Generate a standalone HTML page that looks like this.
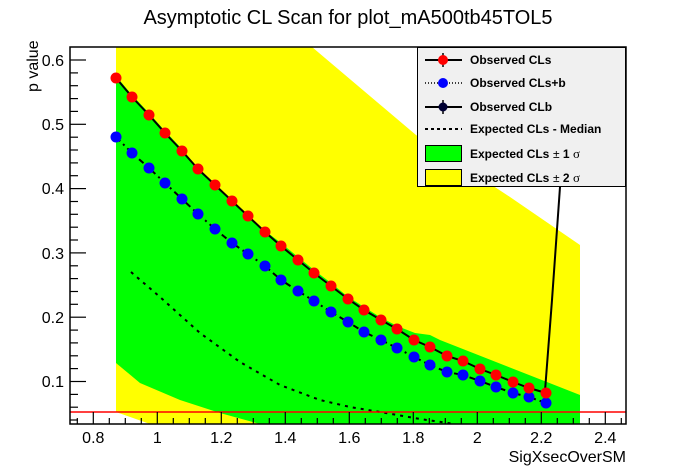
<!DOCTYPE html>
<html><head><meta charset="utf-8"><style>
body{margin:0;background:#fff;}
svg{display:block;font-family:"Liberation Sans",Arial,sans-serif;}
.pre{white-space:pre;}
</style></head><body>
<svg width="696" height="472" viewBox="0 0 696 472" xmlns="http://www.w3.org/2000/svg">
<rect width="696" height="472" fill="#fff"/>
<defs><clipPath id="c"><rect x="70" y="47" width="556" height="377"/></clipPath></defs>
<g clip-path="url(#c)">
<polygon fill="#ffff00" points="116,47 312,47 416,135 510,197 580,245 580,424 150,424 116,412"/>
<polygon fill="#00ff00" points="116,76 132,95 149,113 165,131 182,149 197,167 214,183 231,199 247,214 264,230 281,243 298,257 314,270 331,283 347,296 364,307 380,317 397,326 415,333 430,335 440,340 580,395 580,424 260,424 220,413 180,400 140,383 116,363"/>
<polyline fill="none" stroke="#000" stroke-width="2" stroke-dasharray="3,5" points="131,272 160,297 200,333 240,362 280,385 320,400 350,407 380,412 420,419 455,424"/>
<polyline fill="none" stroke="#000" stroke-width="2" stroke-dasharray="6,4,2,4" points="116,137 132,153 149,168 165,183 182,199 198,214 215,229 232,243 248,254 265,266 281,280 298,291 314,301 331,312 348,322 364,332 381,340 397,348 414,357 430,365 447,372 463,375 480,381 496,387 513,393 529,397 546,403"/>
<polyline fill="none" stroke="#000" stroke-width="2" points="116,78 132,97 149,115 165,133 182,151 198,169 215,185 232,201 248,216 265,232 281,246 298,260 314,273 331,286 348,299 364,310 381,320 397,329 414,340 430,347 447,356 463,361 480,369 496,375 513,382 529,388 546,393"/>
<polyline fill="none" stroke="#000" stroke-width="2" points="545,391 552,300 560,187 566,100"/>
<g fill="#0000ff">
<circle cx="116" cy="137" r="5.5"/><circle cx="132" cy="153" r="5.5"/><circle cx="149" cy="168" r="5.5"/><circle cx="165" cy="183" r="5.5"/><circle cx="182" cy="199" r="5.5"/><circle cx="198" cy="214" r="5.5"/><circle cx="215" cy="229" r="5.5"/><circle cx="232" cy="243" r="5.5"/><circle cx="248" cy="254" r="5.5"/><circle cx="265" cy="266" r="5.5"/><circle cx="281" cy="280" r="5.5"/><circle cx="298" cy="291" r="5.5"/><circle cx="314" cy="301" r="5.5"/><circle cx="331" cy="312" r="5.5"/><circle cx="348" cy="322" r="5.5"/><circle cx="364" cy="332" r="5.5"/><circle cx="381" cy="340" r="5.5"/><circle cx="397" cy="348" r="5.5"/><circle cx="414" cy="357" r="5.5"/><circle cx="430" cy="365" r="5.5"/><circle cx="447" cy="372" r="5.5"/><circle cx="463" cy="375" r="5.5"/><circle cx="480" cy="381" r="5.5"/><circle cx="496" cy="387" r="5.5"/><circle cx="513" cy="393" r="5.5"/><circle cx="529" cy="397" r="5.5"/><circle cx="546" cy="403" r="5.5"/>
</g>
<g fill="#ff0000">
<circle cx="116" cy="78" r="5.5"/><circle cx="132" cy="97" r="5.5"/><circle cx="149" cy="115" r="5.5"/><circle cx="165" cy="133" r="5.5"/><circle cx="182" cy="151" r="5.5"/><circle cx="198" cy="169" r="5.5"/><circle cx="215" cy="185" r="5.5"/><circle cx="232" cy="201" r="5.5"/><circle cx="248" cy="216" r="5.5"/><circle cx="265" cy="232" r="5.5"/><circle cx="281" cy="246" r="5.5"/><circle cx="298" cy="260" r="5.5"/><circle cx="314" cy="273" r="5.5"/><circle cx="331" cy="286" r="5.5"/><circle cx="348" cy="299" r="5.5"/><circle cx="364" cy="310" r="5.5"/><circle cx="381" cy="320" r="5.5"/><circle cx="397" cy="329" r="5.5"/><circle cx="414" cy="340" r="5.5"/><circle cx="430" cy="347" r="5.5"/><circle cx="447" cy="356" r="5.5"/><circle cx="463" cy="361" r="5.5"/><circle cx="480" cy="369" r="5.5"/><circle cx="496" cy="375" r="5.5"/><circle cx="513" cy="382" r="5.5"/><circle cx="529" cy="388" r="5.5"/><circle cx="546" cy="393" r="5.5"/>
</g>
<line x1="70" y1="412" x2="626" y2="412" stroke="#ff0000" stroke-width="1.5"/>
</g>
<rect x="70" y="47" width="556" height="377" fill="none" stroke="#000" stroke-width="1.5"/>
<g stroke="#000" stroke-width="1.2">
<line x1="77.3" y1="424" x2="77.3" y2="418"/>
<line x1="93.3" y1="424" x2="93.3" y2="412"/><line x1="109.3" y1="424" x2="109.3" y2="418"/><line x1="125.3" y1="424" x2="125.3" y2="418"/><line x1="141.3" y1="424" x2="141.3" y2="418"/>
<line x1="157.3" y1="424" x2="157.3" y2="412"/><line x1="173.3" y1="424" x2="173.3" y2="418"/><line x1="189.3" y1="424" x2="189.3" y2="418"/><line x1="205.3" y1="424" x2="205.3" y2="418"/>
<line x1="221.3" y1="424" x2="221.3" y2="412"/><line x1="237.3" y1="424" x2="237.3" y2="418"/><line x1="253.3" y1="424" x2="253.3" y2="418"/><line x1="269.3" y1="424" x2="269.3" y2="418"/>
<line x1="285.3" y1="424" x2="285.3" y2="412"/><line x1="301.3" y1="424" x2="301.3" y2="418"/><line x1="317.3" y1="424" x2="317.3" y2="418"/><line x1="333.3" y1="424" x2="333.3" y2="418"/>
<line x1="349.3" y1="424" x2="349.3" y2="412"/><line x1="365.3" y1="424" x2="365.3" y2="418"/><line x1="381.3" y1="424" x2="381.3" y2="418"/><line x1="397.3" y1="424" x2="397.3" y2="418"/>
<line x1="413.3" y1="424" x2="413.3" y2="412"/><line x1="429.3" y1="424" x2="429.3" y2="418"/><line x1="445.3" y1="424" x2="445.3" y2="418"/><line x1="461.3" y1="424" x2="461.3" y2="418"/>
<line x1="477.3" y1="424" x2="477.3" y2="412"/><line x1="493.3" y1="424" x2="493.3" y2="418"/><line x1="509.3" y1="424" x2="509.3" y2="418"/><line x1="525.3" y1="424" x2="525.3" y2="418"/>
<line x1="541.3" y1="424" x2="541.3" y2="412"/><line x1="557.3" y1="424" x2="557.3" y2="418"/><line x1="573.3" y1="424" x2="573.3" y2="418"/><line x1="589.3" y1="424" x2="589.3" y2="418"/>
<line x1="605.3" y1="424" x2="605.3" y2="412"/><line x1="621.3" y1="424" x2="621.3" y2="418"/>
</g>
<g stroke="#000" stroke-width="1.2">
<line x1="70" y1="60" x2="86" y2="60"/><line x1="70" y1="124.3" x2="86" y2="124.3"/><line x1="70" y1="188.6" x2="86" y2="188.6"/><line x1="70" y1="252.9" x2="86" y2="252.9"/><line x1="70" y1="317.2" x2="86" y2="317.2"/><line x1="70" y1="381.5" x2="86" y2="381.5"/>
<line x1="70" y1="72.9" x2="78" y2="72.9"/><line x1="70" y1="85.7" x2="78" y2="85.7"/><line x1="70" y1="98.6" x2="78" y2="98.6"/><line x1="70" y1="111.4" x2="78" y2="111.4"/>
<line x1="70" y1="137.2" x2="78" y2="137.2"/><line x1="70" y1="150" x2="78" y2="150"/><line x1="70" y1="162.9" x2="78" y2="162.9"/><line x1="70" y1="175.7" x2="78" y2="175.7"/>
<line x1="70" y1="201.5" x2="78" y2="201.5"/><line x1="70" y1="214.3" x2="78" y2="214.3"/><line x1="70" y1="227.2" x2="78" y2="227.2"/><line x1="70" y1="240" x2="78" y2="240"/>
<line x1="70" y1="265.8" x2="78" y2="265.8"/><line x1="70" y1="278.6" x2="78" y2="278.6"/><line x1="70" y1="291.5" x2="78" y2="291.5"/><line x1="70" y1="304.3" x2="78" y2="304.3"/>
<line x1="70" y1="330.1" x2="78" y2="330.1"/><line x1="70" y1="342.9" x2="78" y2="342.9"/><line x1="70" y1="355.8" x2="78" y2="355.8"/><line x1="70" y1="368.6" x2="78" y2="368.6"/>
<line x1="70" y1="394.4" x2="78" y2="394.4"/><line x1="70" y1="407.2" x2="78" y2="407.2"/><line x1="70" y1="420" x2="78" y2="420"/>
</g>
<g font-size="16" fill="#000" text-anchor="end">
<text x="64" y="66">0.6</text><text x="64" y="130">0.5</text><text x="64" y="194">0.4</text><text x="64" y="259">0.3</text><text x="64" y="323">0.2</text><text x="64" y="387">0.1</text>
</g>
<g font-size="16" fill="#000" text-anchor="middle">
<text x="93.3" y="443">0.8</text><text x="157.3" y="443">1</text><text x="221.3" y="443">1.2</text><text x="285.3" y="443">1.4</text><text x="349.3" y="443">1.6</text><text x="413.3" y="443">1.8</text><text x="477.3" y="443">2</text><text x="541.3" y="443">2.2</text><text x="605.3" y="443">2.4</text>
</g>
<text x="626" y="462" font-size="16" text-anchor="end">SigXsecOverSM</text>
<text transform="translate(38,92) rotate(-90)" font-size="16">p value</text>
<text x="348" y="24" font-size="20" text-anchor="middle">Asymptotic CL Scan for plot_mA500tb45TOL5</text>
<rect x="417.5" y="47.5" width="208" height="139" fill="#f0f0f0" stroke="#000" stroke-width="1"/>
<g font-size="12" font-weight="bold" fill="#000">
<line x1="425" y1="60" x2="462" y2="60" stroke="#000" stroke-width="2"/><line x1="443" y1="53" x2="443" y2="67" stroke="#000" stroke-width="1.5"/><circle cx="443" cy="60" r="5" fill="#f00"/>
<text x="470" y="64">Observed CLs</text>
<line x1="425" y1="83" x2="462" y2="83" stroke="#000" stroke-width="1.5" stroke-dasharray="1,2"/><circle cx="443" cy="83" r="5" fill="#00f"/>
<text x="470" y="87">Observed CLs+b</text>
<line x1="425" y1="107" x2="462" y2="107" stroke="#000" stroke-width="2"/><line x1="443" y1="100" x2="443" y2="114" stroke="#000" stroke-width="1.5"/><circle cx="443" cy="107" r="4.5" fill="#000033"/>
<text x="470" y="111">Observed CLb</text>
<line x1="425" y1="129" x2="462" y2="129" stroke="#000" stroke-width="2" stroke-dasharray="3,3"/>
<text x="470" y="133">Expected CLs - Median</text>
<rect x="425.5" y="145.5" width="36" height="16" fill="#00ff00" stroke="#000"/>
<text x="470" y="158">Expected CLs</text>
<text x="553" y="158"><tspan font-weight="normal">±</tspan> 1 <tspan font-weight="normal" font-family="Liberation Serif" font-size="13">σ</tspan></text>
<rect x="425.5" y="169.5" width="36" height="16" fill="#ffff00" stroke="#000"/>
<text x="470" y="182">Expected CLs</text>
<text x="553" y="182"><tspan font-weight="normal">±</tspan> 2 <tspan font-weight="normal" font-family="Liberation Serif" font-size="13">σ</tspan></text>
</g>
</svg>
</body></html>
